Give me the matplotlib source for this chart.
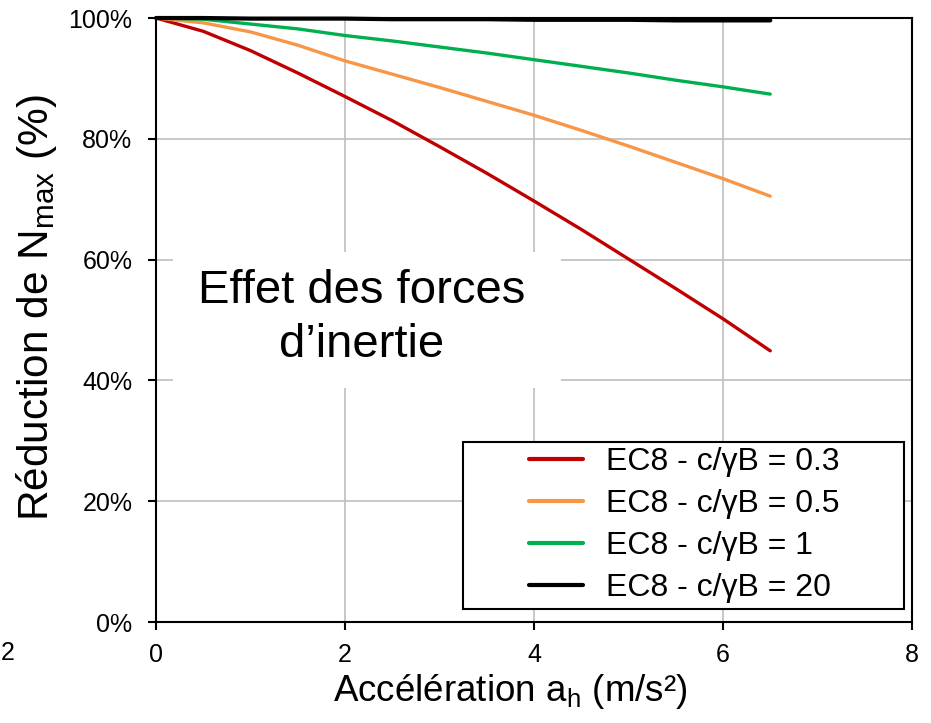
import matplotlib
matplotlib.use("Agg")
import matplotlib.pyplot as plt
from matplotlib.ticker import FuncFormatter
from matplotlib.patches import Rectangle

plt.rcParams['font.family'] = ['Liberation Sans', 'DejaVu Sans']

# Data
accel = [0.0, 0.5, 1.0, 1.5, 2.0, 2.5, 3.0, 3.5, 4.0, 4.5, 5.0, 5.5, 6.0, 6.5]
red_03 = [100, 97.8, 94.6, 90.9, 87.0, 83.0, 78.7, 74.3, 69.7, 65.0, 60.1, 55.2, 50.2, 44.9]
orange_05 = [100, 99.2, 97.7, 95.5, 92.9, 90.7, 88.5, 86.2, 83.9, 81.4, 78.8, 76.1, 73.4, 70.5]
green_1 = [100, 99.8, 99.0, 98.2, 97.1, 96.2, 95.2, 94.2, 93.1, 92.0, 90.9, 89.7, 88.6, 87.4]
black_20 = [100, 100, 99.9, 99.9, 99.9, 99.8, 99.8, 99.8, 99.7, 99.7, 99.7, 99.6, 99.6, 99.6]
labels = ["EC8 - c/\u03b3B = 0.3", "EC8 - c/\u03b3B = 0.5", "EC8 - c/\u03b3B = 1", "EC8 - c/\u03b3B = 20"]
colors = ["#C00000", "#F79646", "#00B050", "#000000"]
xticks = [0, 2, 4, 6, 8]
yticks = [0, 20, 40, 60, 80, 100]

W, H = 931, 723
fig = plt.figure(figsize=(W/100, H/100), dpi=100)
ax = fig.add_axes([156/W, 1-622/H, 756/W, 604/H])

series = [red_03, orange_05, green_1, black_20]
for s, lab, c in zip(series, labels, colors):
    lw = 3.0 if c == "#000000" else 2.4
    ax.plot(accel, s, color=c, lw=lw, label=lab, zorder=3, solid_capstyle='round', clip_on=False)

ax.set_xlim(0, 8)
ax.set_ylim(0, 100)
ax.set_xticks(xticks)
ax.set_yticks(yticks)
ax.yaxis.set_major_formatter(FuncFormatter(lambda v, p: f"{v:.0f}%"))
ax.grid(True, color="#BFBFBF", lw=1.2, zorder=0)
ax.set_axisbelow(True)
for sp in ax.spines.values():
    sp.set_linewidth(1.5)
    sp.set_color("black")
ax.tick_params(axis='both', direction='out', length=6, width=1.5, labelsize=18, color='black')
ax.tick_params(axis='x', pad=9)
ax.tick_params(axis='y', pad=11)

ax.set_xlabel("Accélération a$_\\mathregular{h}$ (m/s²)", fontsize=26.5)
ax.xaxis.set_label_coords((510-156)/756, (622-672)/604)
ax.set_ylabel("Réduction de N$_\\mathregular{max}$ (%)", fontsize=30.5)
ax.yaxis.set_label_coords((59-156)/756, (622-308)/604)

# white box behind the annotation text
ax.add_patch(Rectangle((173/W, 1-388/H), (561-173)/W, (388-252)/H, transform=fig.transFigure,
                       facecolor='white', edgecolor='none', zorder=2, clip_on=False))
ax.text((362-156)/756, (622-318)/604, "Effet des forces\nd\u2019inertie", transform=ax.transAxes,
        fontsize=34, ha='center', va='center', linespacing=1.27, zorder=2.5)

# legend frame
ax.add_patch(Rectangle((463/W, 1-609/H), (904-463)/W, (609-442)/H, transform=fig.transFigure,
                       facecolor='white', edgecolor='black', lw=1.5, zorder=4, clip_on=False))
leg = ax.legend(loc='upper left', bbox_to_anchor=(529/W, 1-447/H), bbox_transform=fig.transFigure,
                fontsize=23, frameon=False, handlelength=1.69, labelspacing=0.38, borderpad=0,
                handletextpad=0.72, borderaxespad=0)
leg.set_zorder(5)
for h in leg.get_lines():
    h.set_linewidth(3)

fig.text(1/W, 1-653/H, "2", fontsize=18, ha='left', va='center')

fig.savefig("out.png", dpi=100)
